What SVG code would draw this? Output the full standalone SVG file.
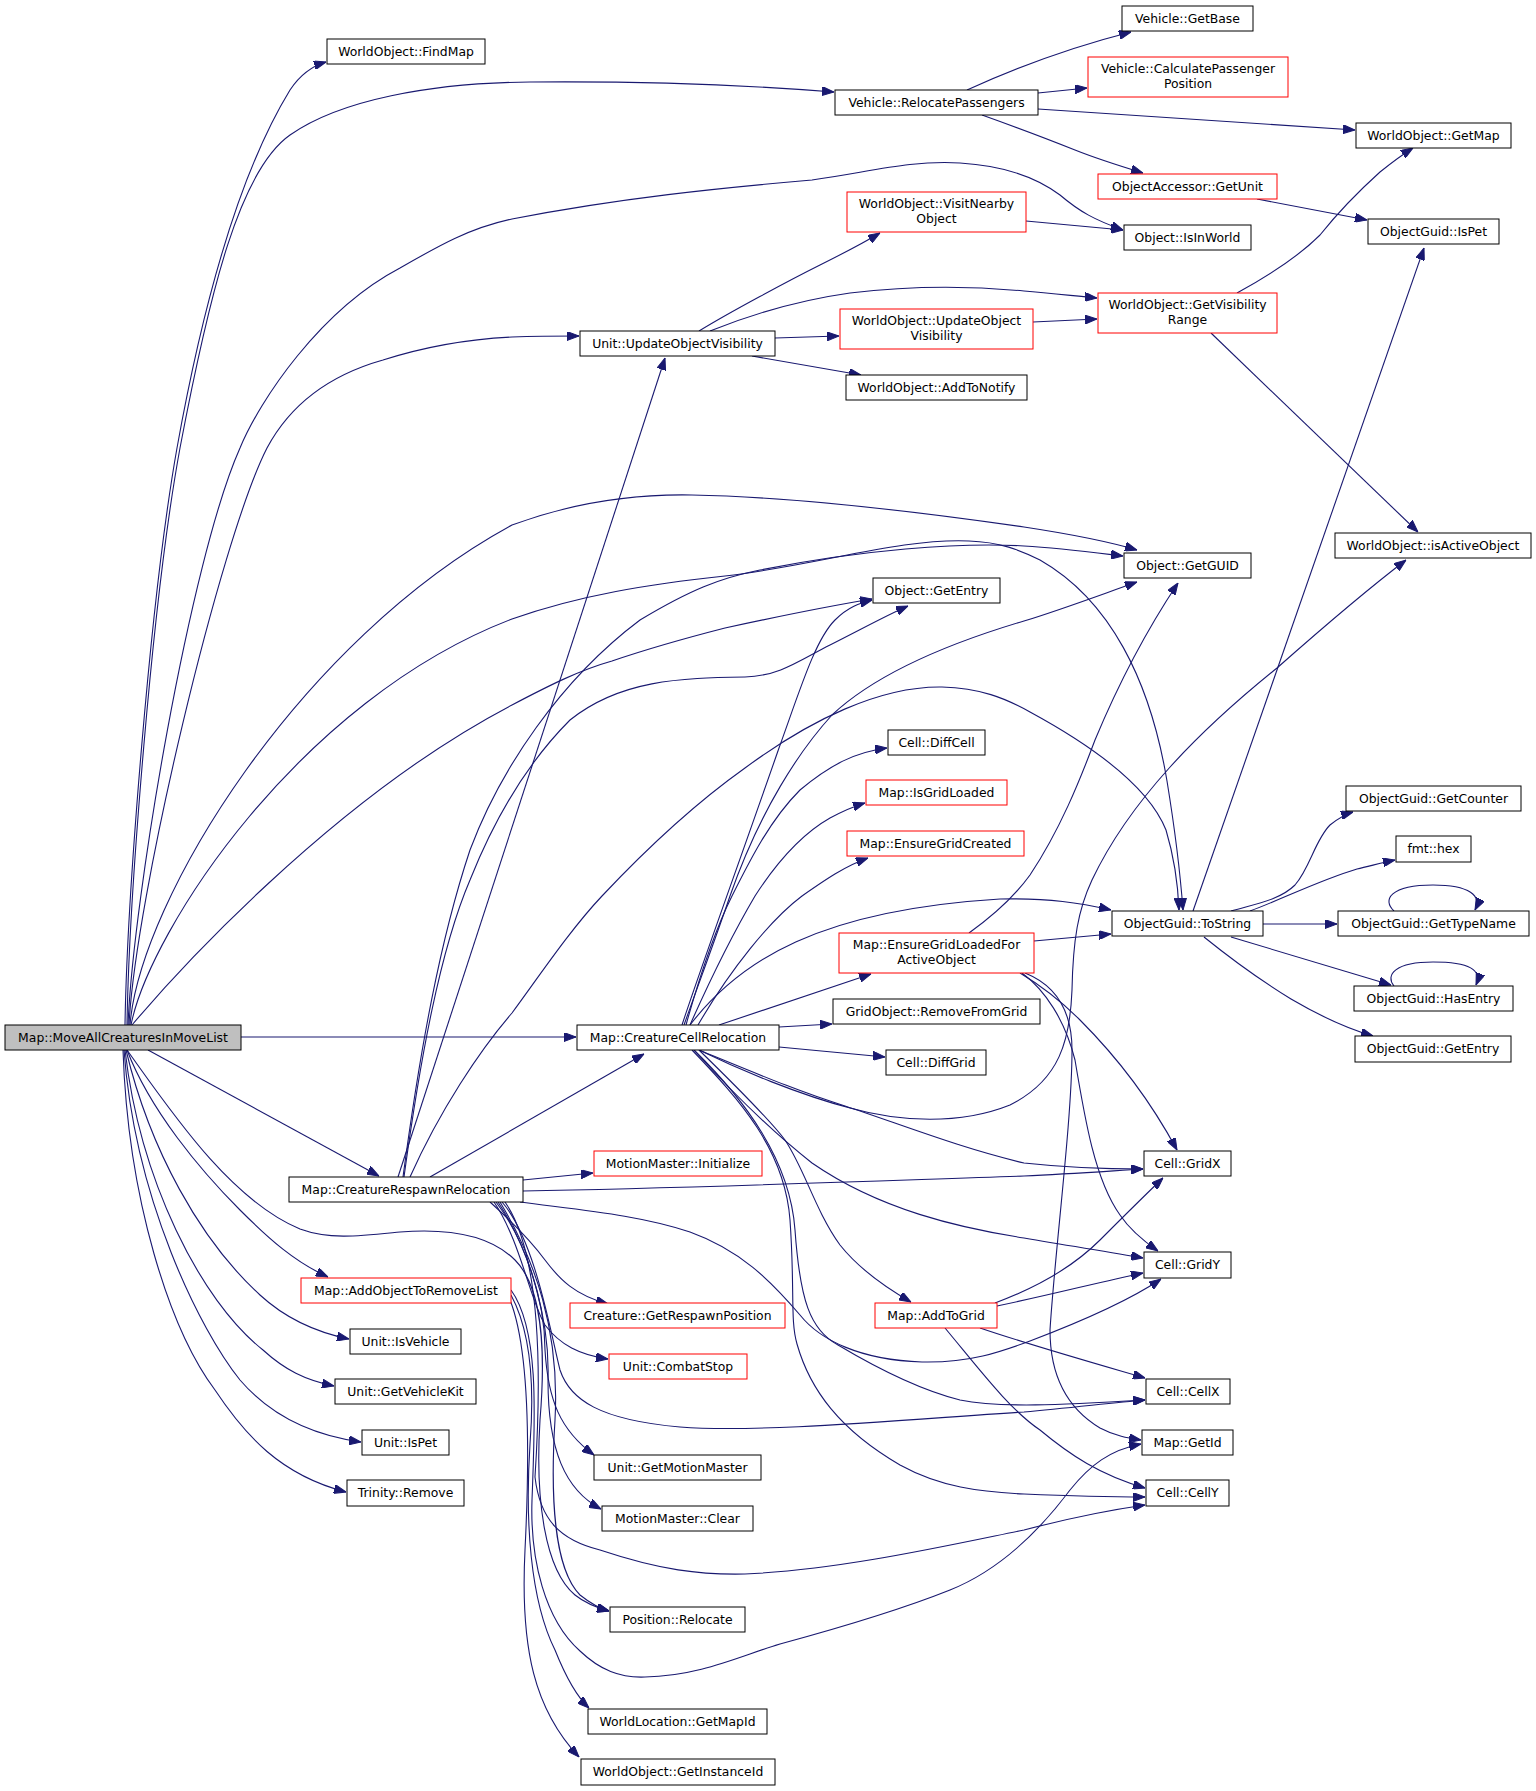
<svg xmlns="http://www.w3.org/2000/svg" width="1536" height="1791" viewBox="0 0 1536 1791">
<style>
.n rect{fill:#ffffff;stroke:#000000;stroke-width:1}
.n.r rect{stroke:#ff0000}
.n.m rect{fill:#bfbfbf}
.n text{font-family:"DejaVu Sans","Liberation Sans",sans-serif;font-size:12.4px;fill:#000000;text-anchor:middle}
#edges path{fill:none;stroke:#191970;stroke-width:1.1;marker-end:url(#a)}
</style>
<defs>
<marker id="a" markerWidth="12" markerHeight="9" refX="12" refY="4.5" orient="auto" markerUnits="userSpaceOnUse"><path d="M0,0 L12,4.5 L0,9 z" fill="#191970" stroke="#191970" stroke-width="1"/></marker>
</defs>
<rect x="0" y="0" width="1536" height="1791" fill="#ffffff"/>
<g id="edges">
<path d="M125,1025 C127,900 150,600 177,448 C200,320 235,180 290,90 C300,75 312,66 326,62"/>
<path d="M127,1025 C129,900 152,600 180,448 C210,290 240,170 290,135 C340,100 430,83 530,82 C650,81 760,86 834,92"/>
<path d="M128,1025 C133,900 190,560 240,448 C260,400 320,310 400,268 C440,245 470,228 512,219 C620,198 720,188 812,180 C870,172 910,160 960,163 C1010,166 1040,180 1060,195 C1080,212 1095,220 1123,230"/>
<path d="M129,1025 C135,900 220,540 267,448 C290,405 330,375 383,360 C430,345 470,339 512,337 C540,336 560,336 579,336"/>
<path d="M130,1025 C140,900 300,640 512,525 C580,500 640,494 692,495 C800,497 920,512 1024,527 C1070,534 1110,542 1137,550"/>
<path d="M131,1025 C150,930 300,700 512,619 C580,595 650,584 725,576 C820,565 900,538 969,541 C1000,542 1020,550 1040,560 C1110,600 1150,680 1167,781 C1175,830 1180,870 1183,910"/>
<path d="M132,1025 C170,980 330,800 512,705 C550,685 580,670 612,661 C650,648 690,637 725,628 C780,616 830,606 872,599"/>
<path d="M241,1037 L576,1037"/>
<path d="M148,1050 L379,1176"/>
<path d="M127,1050 C150,1110 200,1170 240,1210 C270,1240 295,1262 328,1277"/>
<path d="M126,1050 C150,1150 200,1240 260,1295 C285,1318 315,1332 349,1339"/>
<path d="M125,1050 C140,1180 200,1300 263,1350 C285,1370 305,1380 334,1386"/>
<path d="M124,1050 C135,1200 200,1330 240,1380 C270,1415 310,1435 361,1442"/>
<path d="M123,1050 C128,1200 170,1330 215,1390 C245,1435 280,1475 346,1492"/>
<path d="M127,1050 C170,1110 230,1200 300,1229 C330,1240 360,1236 400,1232 C450,1228 490,1235 515,1260 C545,1290 545,1360 540,1420 C535,1500 545,1570 575,1595 C585,1603 598,1608 609,1611"/>
<path d="M398,1177 L665,358"/>
<path d="M404,1177 C420,1060 440,950 470,880 C490,830 520,770 570,720 C620,680 680,678 745,677 C780,676 800,660 830,645 C860,630 885,616 908,606"/>
<path d="M403,1177 C420,1050 440,940 470,850 C500,770 560,680 640,620 C690,590 720,578 760,570 C860,550 960,542 1024,546 C1060,548 1090,552 1123,556"/>
<path d="M410,1177 C440,1110 480,1050 512,1013 C540,975 570,930 602,896 C650,845 700,800 745,768 C810,720 880,686 942,687 C980,688 1005,698 1030,712 C1100,750 1150,790 1166,830 C1175,860 1178,885 1179,910"/>
<path d="M430,1177 L644,1054"/>
<path d="M523,1180 L593,1173"/>
<path d="M523,1191 C700,1188 900,1180 1024,1176 C1070,1174 1110,1171 1143,1169"/>
<path d="M520,1202 C580,1210 640,1215 690,1232 C740,1250 770,1280 800,1315 C820,1340 860,1360 922,1362 C970,1363 1000,1352 1030,1341 C1080,1322 1130,1300 1161,1279"/>
<path d="M490,1202 C510,1220 530,1240 545,1260 C560,1280 575,1295 608,1304"/>
<path d="M494,1202 C520,1240 530,1300 545,1325 C560,1345 580,1355 608,1359"/>
<path d="M496,1202 C525,1240 545,1300 545,1350 C548,1400 560,1430 594,1455"/>
<path d="M498,1202 C530,1250 550,1320 548,1380 C548,1450 565,1490 601,1509"/>
<path d="M500,1202 C535,1260 560,1330 555,1420 C550,1500 555,1570 580,1595 C590,1603 598,1608 609,1611"/>
<path d="M502,1202 C535,1240 550,1330 560,1370 C570,1400 600,1420 680,1427 C760,1433 900,1420 1024,1412 C1070,1408 1110,1403 1145,1400"/>
<path d="M505,1202 C545,1260 540,1400 535,1477 C540,1520 560,1540 600,1550 C660,1570 700,1575 745,1574 C840,1570 950,1545 1024,1530 C1070,1518 1110,1510 1145,1505"/>
<path d="M511,1295 C530,1330 535,1380 530,1444 C525,1520 530,1600 555,1650 C565,1675 575,1695 589,1708"/>
<path d="M510,1300 C530,1350 530,1450 525,1550 C520,1650 535,1710 579,1757"/>
<path d="M511,1290 C540,1330 535,1420 532,1500 C530,1560 545,1620 580,1651 C600,1670 620,1678 645,1677 C700,1676 740,1656 780,1644 C850,1625 900,1610 950,1590 C1000,1570 1040,1530 1070,1490 C1090,1465 1110,1450 1141,1444"/>
<path d="M719,1025 L871,974"/>
<path d="M779,1027 L832,1024"/>
<path d="M779,1047 L885,1057"/>
<path d="M690,1025 C740,960 820,910 1000,899 C1050,898 1080,903 1111,910"/>
<path d="M682,1025 C700,970 740,860 779,748 C800,690 815,640 835,620 C848,607 860,603 872,600"/>
<path d="M684,1025 C700,980 715,940 730,896 C760,810 800,750 832,715 C880,670 960,640 1024,621 C1060,610 1100,595 1137,582"/>
<path d="M686,1025 C700,975 715,930 732,896 C750,860 770,820 800,790 C830,765 855,752 887,748"/>
<path d="M690,1025 C710,980 735,930 755,896 C775,865 800,835 830,818 C845,810 855,806 865,803"/>
<path d="M698,1025 C730,970 770,920 802,896 C825,880 845,866 868,858"/>
<path d="M699,1050 C740,1070 800,1095 850,1108 C900,1122 960,1125 1010,1105 C1060,1080 1070,1040 1072,990 C1073,940 1078,910 1092,880 C1130,800 1200,730 1277,668 C1320,630 1360,595 1406,560"/>
<path d="M699,1050 C760,1075 800,1092 845,1106 C900,1124 960,1148 1024,1163 C1070,1168 1110,1169 1143,1169"/>
<path d="M694,1050 C730,1090 770,1130 812,1163 C880,1210 960,1228 1024,1238 C1070,1246 1110,1252 1143,1258"/>
<path d="M699,1050 C740,1090 770,1120 785,1140 C805,1170 815,1210 840,1245 C860,1270 890,1290 911,1302"/>
<path d="M692,1050 C740,1100 785,1150 790,1220 C795,1290 790,1320 797,1344 C810,1390 840,1430 900,1465 C940,1487 980,1492 1024,1494 C1070,1496 1110,1497 1145,1497"/>
<path d="M694,1050 C745,1100 790,1160 795,1230 C800,1300 810,1330 838,1345 C880,1370 920,1390 960,1400 C1000,1408 1060,1405 1145,1400"/>
<path d="M1034,941 L1111,934"/>
<path d="M969,933 C990,918 1012,900 1030,875 C1060,830 1080,780 1095,740 C1120,680 1150,625 1178,583"/>
<path d="M1020,973 C1040,985 1060,1000 1080,1020 C1120,1060 1150,1100 1177,1150"/>
<path d="M1022,973 C1045,990 1065,1020 1075,1060 C1085,1120 1095,1180 1120,1215 C1130,1230 1145,1242 1158,1251"/>
<path d="M1025,973 C1055,985 1072,1010 1072,1050 C1072,1120 1055,1250 1050,1330 C1050,1380 1070,1410 1100,1428 C1115,1436 1128,1438 1141,1440"/>
<path d="M995,1303 C1030,1290 1070,1270 1100,1240 C1125,1215 1145,1195 1163,1178"/>
<path d="M997,1306 C1050,1295 1100,1282 1143,1273"/>
<path d="M980,1328 C1030,1345 1090,1362 1145,1378"/>
<path d="M945,1328 C980,1370 1010,1410 1040,1430 C1070,1455 1100,1475 1145,1488"/>
<path d="M967,90 C1000,75 1060,50 1131,32"/>
<path d="M1038,93 L1087,88"/>
<path d="M1038,109 L1355,130"/>
<path d="M982,115 C1010,125 1050,140 1075,150 C1095,158 1120,166 1143,173"/>
<path d="M1257,199 L1367,220"/>
<path d="M1026,221 L1123,230"/>
<path d="M699,331 C730,312 790,280 820,265 C840,255 860,245 880,233"/>
<path d="M710,331 C750,315 800,300 850,293 C900,287 960,285 1024,291 C1050,293 1075,296 1097,298"/>
<path d="M775,338 L839,336"/>
<path d="M752,356 L861,375"/>
<path d="M1033,322 L1097,319"/>
<path d="M1237,293 C1270,275 1300,255 1320,235 C1340,210 1360,190 1380,172 C1395,160 1405,153 1413,148"/>
<path d="M1211,333 L1418,532"/>
<path d="M1193,911 L1424,248"/>
<path d="M1231,911 C1255,904 1280,900 1295,885 C1310,868 1315,840 1330,825 C1340,817 1346,814 1353,812"/>
<path d="M1250,911 C1280,900 1320,880 1357,869 C1370,866 1385,862 1395,860"/>
<path d="M1263,924 L1337,924"/>
<path d="M1231,937 L1391,985"/>
<path d="M1204,937 C1230,958 1260,980 1291,999 C1320,1016 1345,1028 1373,1036"/>
<path d="M1394,911 C1382,900 1390,885 1433,885 C1470,885 1482,896 1475,910"/>
<path d="M1394,986 C1385,975 1395,962 1433,962 C1470,962 1482,970 1476,985"/>
</g>
<g id="n_M" class="n m"><rect x="5" y="1025" width="236" height="25"/><text x="123" y="1041.5">Map::MoveAllCreaturesInMoveList</text></g>
<g id="n_FM" class="n"><rect x="327" y="39" width="158" height="25"/><text x="406" y="55.5">WorldObject::FindMap</text></g>
<g id="n_RP" class="n"><rect x="835" y="90" width="203" height="25"/><text x="936.5" y="106.5">Vehicle::RelocatePassengers</text></g>
<g id="n_GB" class="n"><rect x="1122" y="6" width="131" height="25"/><text x="1187.5" y="22.5">Vehicle::GetBase</text></g>
<g id="n_CPP" class="n r"><rect x="1088" y="57" width="200" height="40"/><text x="1188" y="73">Vehicle::CalculatePassenger</text><text x="1188" y="87.5">Position</text></g>
<g id="n_GM" class="n"><rect x="1356" y="123" width="155" height="25"/><text x="1433.5" y="139.5">WorldObject::GetMap</text></g>
<g id="n_GU" class="n r"><rect x="1098" y="174" width="179" height="25"/><text x="1187.5" y="190.5">ObjectAccessor::GetUnit</text></g>
<g id="n_VN" class="n r"><rect x="847" y="192" width="179" height="40"/><text x="936.5" y="208">WorldObject::VisitNearby</text><text x="936.5" y="222.5">Object</text></g>
<g id="n_IW" class="n"><rect x="1124" y="225" width="127" height="25"/><text x="1187.5" y="241.5">Object::IsInWorld</text></g>
<g id="n_OIP" class="n"><rect x="1368" y="219" width="131" height="25"/><text x="1433.5" y="235.5">ObjectGuid::IsPet</text></g>
<g id="n_UOV" class="n"><rect x="580" y="331" width="195" height="25"/><text x="677.5" y="347.5">Unit::UpdateObjectVisibility</text></g>
<g id="n_WUOV" class="n r"><rect x="840" y="309" width="193" height="40"/><text x="936.5" y="325">WorldObject::UpdateObject</text><text x="936.5" y="339.5">Visibility</text></g>
<g id="n_GVR" class="n r"><rect x="1098" y="293" width="179" height="40"/><text x="1187.5" y="309">WorldObject::GetVisibility</text><text x="1187.5" y="323.5">Range</text></g>
<g id="n_ATN" class="n"><rect x="846" y="375" width="181" height="25"/><text x="936.5" y="391.5">WorldObject::AddToNotify</text></g>
<g id="n_IAO" class="n"><rect x="1335" y="533" width="196" height="25"/><text x="1433" y="549.5">WorldObject::isActiveObject</text></g>
<g id="n_GG" class="n"><rect x="1124" y="553" width="127" height="25"/><text x="1187.5" y="569.5">Object::GetGUID</text></g>
<g id="n_GE" class="n"><rect x="873" y="578" width="127" height="25"/><text x="936.5" y="594.5">Object::GetEntry</text></g>
<g id="n_DC" class="n"><rect x="888" y="730" width="97" height="25"/><text x="936.5" y="746.5">Cell::DiffCell</text></g>
<g id="n_IGL" class="n r"><rect x="866" y="780" width="141" height="25"/><text x="936.5" y="796.5">Map::IsGridLoaded</text></g>
<g id="n_EGC" class="n r"><rect x="847" y="831" width="177" height="25"/><text x="935.5" y="847.5">Map::EnsureGridCreated</text></g>
<g id="n_GC" class="n"><rect x="1346" y="786" width="175" height="25"/><text x="1433.5" y="802.5">ObjectGuid::GetCounter</text></g>
<g id="n_HEX" class="n"><rect x="1396" y="836" width="75" height="26"/><text x="1433.5" y="852.5">fmt::hex</text></g>
<g id="n_TS" class="n"><rect x="1112" y="911" width="151" height="25"/><text x="1187.5" y="927.5">ObjectGuid::ToString</text></g>
<g id="n_GTN" class="n"><rect x="1338" y="911" width="191" height="25"/><text x="1433.5" y="927.5">ObjectGuid::GetTypeName</text></g>
<g id="n_EGL" class="n r"><rect x="839" y="933" width="195" height="40"/><text x="936.5" y="949">Map::EnsureGridLoadedFor</text><text x="936.5" y="963.5">ActiveObject</text></g>
<g id="n_HE" class="n"><rect x="1354" y="986" width="159" height="25"/><text x="1433.5" y="1002.5">ObjectGuid::HasEntry</text></g>
<g id="n_RFG" class="n"><rect x="833" y="999" width="207" height="25"/><text x="936.5" y="1015.5">GridObject::RemoveFromGrid</text></g>
<g id="n_C" class="n"><rect x="577" y="1025" width="202" height="25"/><text x="678" y="1041.5">Map::CreatureCellRelocation</text></g>
<g id="n_DG" class="n"><rect x="886" y="1050" width="100" height="25"/><text x="936" y="1066.5">Cell::DiffGrid</text></g>
<g id="n_OGE" class="n"><rect x="1355" y="1036" width="156" height="26"/><text x="1433" y="1052.5">ObjectGuid::GetEntry</text></g>
<g id="n_GX" class="n"><rect x="1144" y="1151" width="87" height="25"/><text x="1187.5" y="1167.5">Cell::GridX</text></g>
<g id="n_MMI" class="n r"><rect x="594" y="1151" width="168" height="25"/><text x="678" y="1167.5">MotionMaster::Initialize</text></g>
<g id="n_R" class="n"><rect x="289" y="1177" width="234" height="25"/><text x="406" y="1193.5">Map::CreatureRespawnRelocation</text></g>
<g id="n_GY" class="n"><rect x="1144" y="1252" width="87" height="26"/><text x="1187.5" y="1268.5">Cell::GridY</text></g>
<g id="n_AOR" class="n r"><rect x="301" y="1278" width="210" height="25"/><text x="406" y="1294.5">Map::AddObjectToRemoveList</text></g>
<g id="n_GRP" class="n r"><rect x="570" y="1303" width="215" height="25"/><text x="677.5" y="1319.5">Creature::GetRespawnPosition</text></g>
<g id="n_ATG" class="n r"><rect x="875" y="1303" width="122" height="25"/><text x="936" y="1319.5">Map::AddToGrid</text></g>
<g id="n_IV" class="n"><rect x="350" y="1329" width="111" height="25"/><text x="405.5" y="1345.5">Unit::IsVehicle</text></g>
<g id="n_CS" class="n r"><rect x="609" y="1354" width="138" height="25"/><text x="678" y="1370.5">Unit::CombatStop</text></g>
<g id="n_GVK" class="n"><rect x="335" y="1379" width="141" height="25"/><text x="405.5" y="1395.5">Unit::GetVehicleKit</text></g>
<g id="n_CX" class="n"><rect x="1146" y="1379" width="84" height="25"/><text x="1188" y="1395.5">Cell::CellX</text></g>
<g id="n_UIP" class="n"><rect x="362" y="1430" width="87" height="25"/><text x="405.5" y="1446.5">Unit::IsPet</text></g>
<g id="n_MGI" class="n"><rect x="1142" y="1430" width="91" height="25"/><text x="1187.5" y="1446.5">Map::GetId</text></g>
<g id="n_GMM" class="n"><rect x="594" y="1455" width="167" height="25"/><text x="677.5" y="1471.5">Unit::GetMotionMaster</text></g>
<g id="n_TR" class="n"><rect x="347" y="1480" width="117" height="26"/><text x="405.5" y="1496.5">Trinity::Remove</text></g>
<g id="n_CY" class="n"><rect x="1146" y="1480" width="83" height="26"/><text x="1187.5" y="1496.5">Cell::CellY</text></g>
<g id="n_MMC" class="n"><rect x="602" y="1506" width="151" height="25"/><text x="677.5" y="1522.5">MotionMaster::Clear</text></g>
<g id="n_PR" class="n"><rect x="610" y="1607" width="135" height="25"/><text x="677.5" y="1623.5">Position::Relocate</text></g>
<g id="n_GMI" class="n"><rect x="588" y="1709" width="179" height="25"/><text x="677.5" y="1725.5">WorldLocation::GetMapId</text></g>
<g id="n_GII" class="n"><rect x="581" y="1759" width="194" height="26"/><text x="678" y="1775.5">WorldObject::GetInstanceId</text></g>
</svg>
